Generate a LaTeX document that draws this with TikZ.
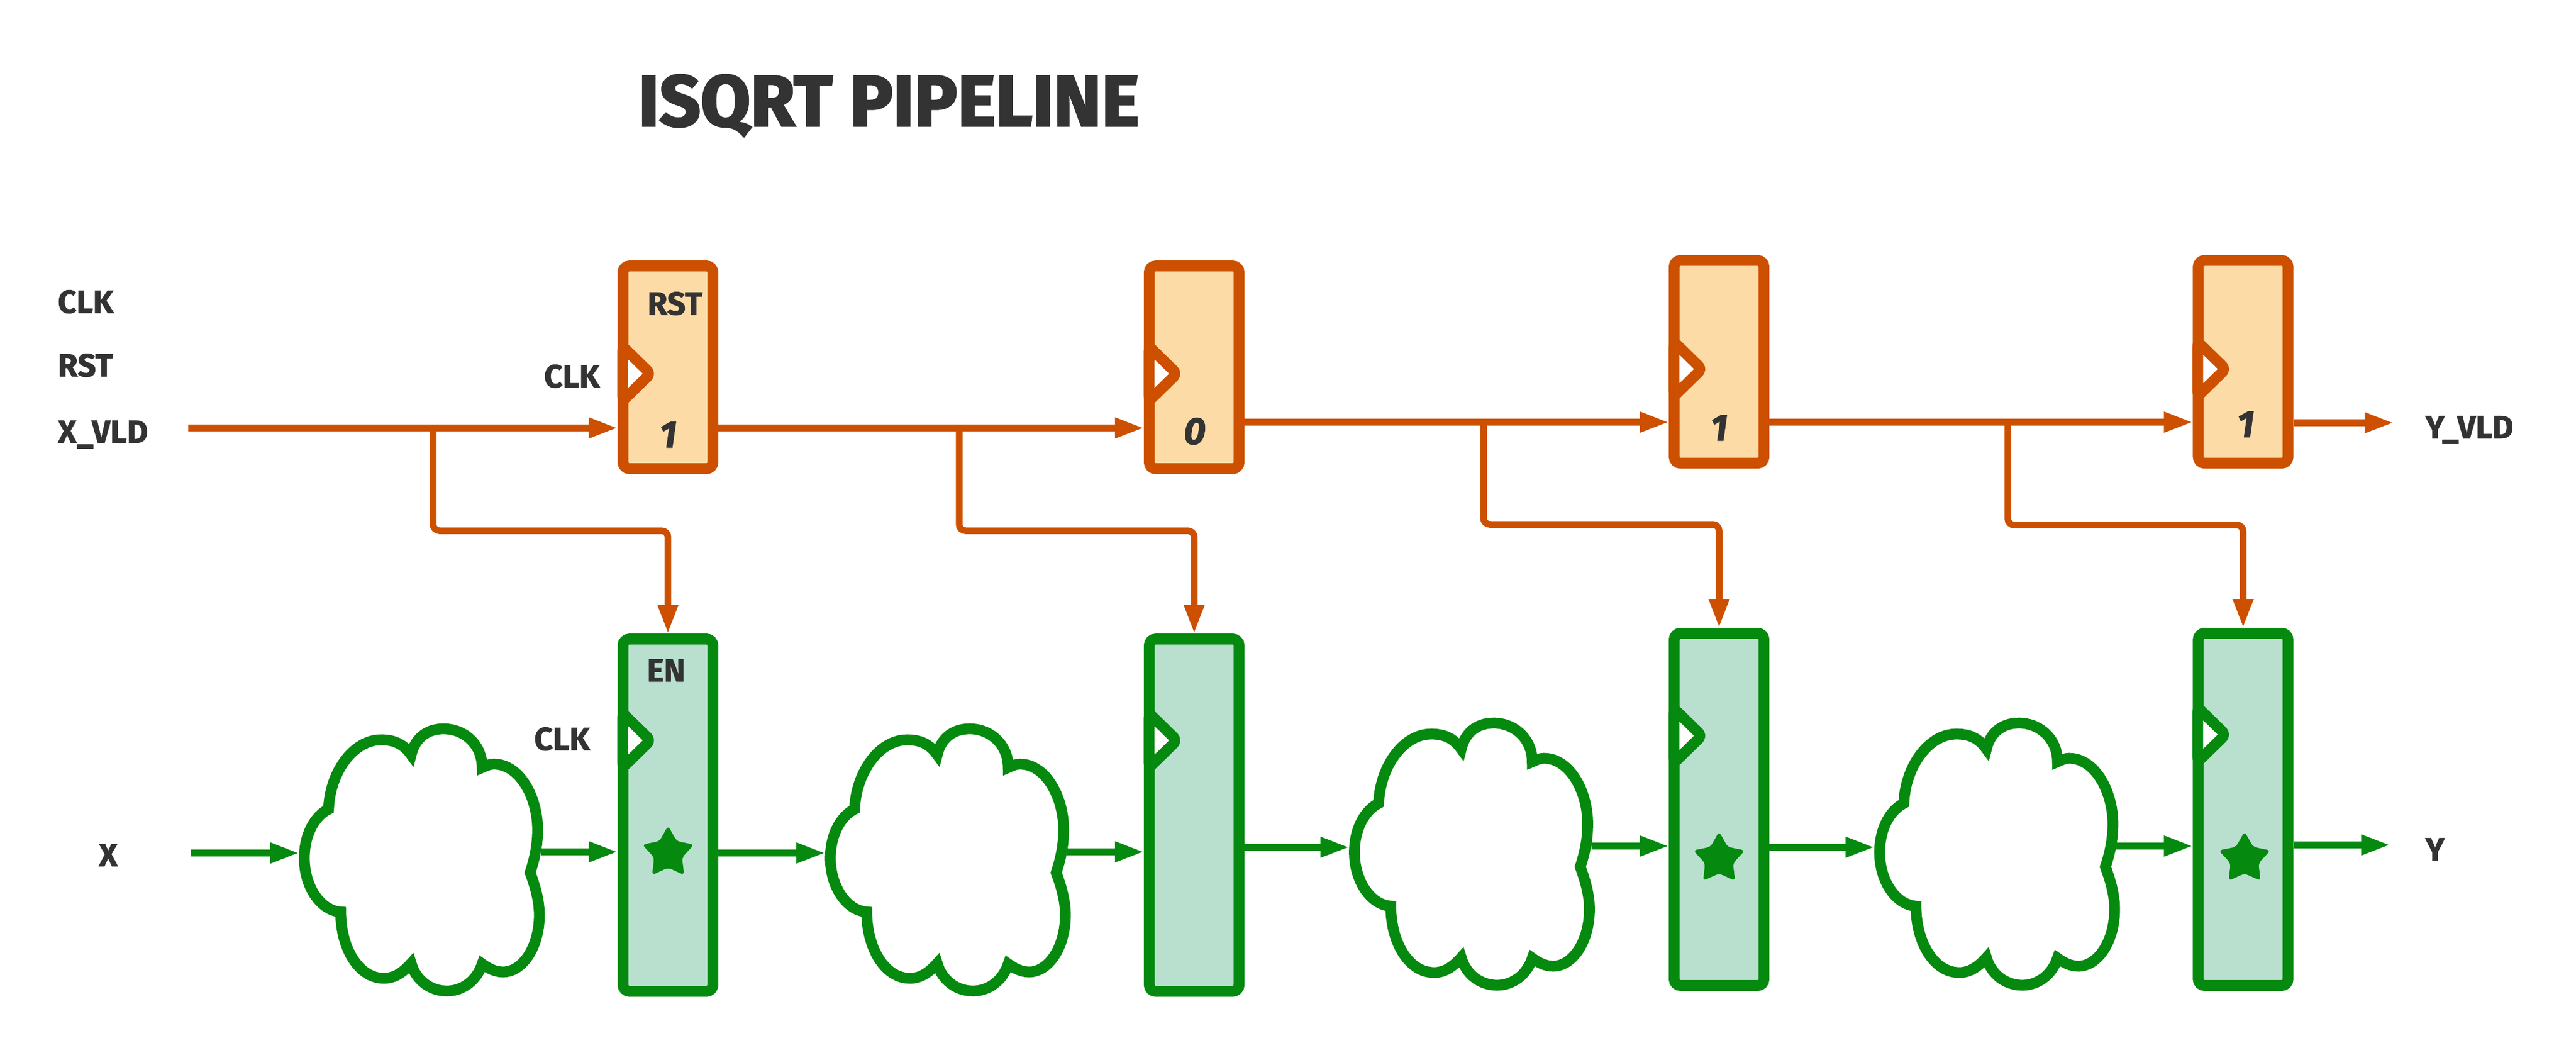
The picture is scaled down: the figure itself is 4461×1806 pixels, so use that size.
\documentclass[tikz,border=0pt]{standalone}
\usepackage{fontspec}
\setmainfont{Fira Sans}
\newfontfamily\heavyfont[FakeBold=2.5]{Fira Sans}
\newfontfamily\labelfont[FakeBold=1.2]{Fira Sans}
\usetikzlibrary{arrows.meta,shapes.geometric}
\definecolor{ink}{HTML}{333333}
\definecolor{ostroke}{HTML}{CC5000}
\definecolor{ofill}{HTML}{FDDBA6}
\definecolor{gstroke}{HTML}{05890E}
\definecolor{gfill}{HTML}{B9E0CF}
\tikzset{
  x=1pt,y=-1pt,
  box/.style={draw,rectangle,rounded corners=11pt,line width=18.7pt,inner sep=0pt,minimum width=155.5pt},
  obox/.style={box,draw=ostroke,fill=ofill,minimum height=351pt},
  gbox/.style={box,draw=gstroke,fill=gfill,minimum height=610pt},
  wire/.style={line width=11.5pt,-{Triangle[length=50pt,width=33pt]}},
  owire/.style={wire,draw=ostroke},
  gwire/.style={wire,draw=gstroke},
  branch/.style={owire,line width=11.5pt,rounded corners=11pt},
  lbl/.style={anchor=base west,inner sep=0pt,text=ink,font=\fontsize{56}{60}\labelfont\bfseries},
  digit/.style={anchor=base,inner sep=0pt,text=ink,font=\fontsize{66}{68}\labelfont\bfseries\itshape},
  starmark/.style={star,star points=5,star point ratio=1.85,fill=gstroke,draw=none,rounded corners=6pt,inner sep=0pt,minimum size=94pt},
  clkmark/.style={line width=18.7pt,fill=white,rounded corners=8pt,line join=round},
  cloudshape/.style={draw=gstroke,fill=white,line width=18.7pt,line join=miter}
}
\newcommand{\clkat}[3]{%
  \draw[clkmark,draw=#3] (#1+9,#2-47) -- (#1+57,#2) -- (#1+9,#2+47) -- cycle;}
\newcommand{\cloudat}[3]{%
  \begin{scope}[shift={(#2,#3)}]
  \draw[cloudshape] (569,1401)
    .. controls (571,1340) and (610,1281) .. (660,1281)
    .. controls (685,1281) and (700,1290) .. (712,1307)
    .. controls (718,1280) and (738,1262) .. (768,1262)
    .. controls (805,1262) and (835,1290) .. (835,1329)
    .. controls (842,1326) and (848,1323) .. (855,1323)
    .. controls (900,1323) and (931,1380) .. (931,1437)
    .. controls (931,1465) and (925,1490) .. (918,1511)
    .. controls (927,1535) and (934,1560) .. (934,1584)
    .. controls (934,1640) and (905,1683) .. (871,1683)
    .. controls (858,1683) and (846,1677) .. (835,1669)
    .. controls (826,1697) and (802,1716) .. (774,1716)
    .. controls (745,1716) and (720,1697) .. (712,1668)
    .. controls (697,1685) and (682,1694) .. (665,1694)
    .. controls (620,1694) and (590,1640) .. (590,1579)
    .. controls (555,1577) and (527,1535) .. (527,1486)
    .. controls (527,1445) and (545,1413) .. (569,1401) -- cycle;
  \coordinate (#1w) at (518,1477);
  \coordinate (#1e) at (937,1475);
  \end{scope}}
\begin{document}
\begin{tikzpicture}
\path[use as bounding box] (0,0) rectangle (4461,1806);

% title and side labels
\node[lbl,font=\fontsize{125}{130}\heavyfont\bfseries] (title) at (1105,218) {ISQRT PIPELINE};
\node[lbl] (lclk) at (100,542) {CLK};
\node[lbl] (lrst) at (100,652) {RST};
\node[lbl] (lvld) at (100,767) {X\_VLD};
\node[lbl] (lx) at (171,1500) {X};
\node[lbl] (lyv) at (4200,759) {Y\_VLD};
\node[lbl] (ly) at (4200,1490) {Y};

% registers
\node[obox] (r1) at (1156.7,636) {};
\node[obox] (r2) at (2068,636) {};
\node[obox] (r3) at (2977,626.5) {};
\node[obox] (r4) at (3884.5,626.5) {};
\node[gbox] (g1) at (1156.7,1411.5) {};
\node[gbox] (g2) at (2068,1411.5) {};
\node[gbox] (g3) at (2977,1401.5) {};
\node[gbox] (g4) at (3884.5,1401.5) {};
\clkat{1069.5}{647}{ostroke}
\clkat{1981}{647}{ostroke}
\clkat{2890}{639}{ostroke}
\clkat{3797}{639}{ostroke}
\clkat{1069.5}{1282}{gstroke}
\clkat{1981}{1282}{gstroke}
\clkat{2890}{1274}{gstroke}
\clkat{3797}{1272}{gstroke}

\node[lbl] (rstl) at (1121,545) {RST};
\node[lbl] (enl) at (1120,1180) {EN};
\node[lbl] (clkr) at (942,671) {CLK};
\node[lbl] (clkg) at (925,1299) {CLK};
\node[digit] (d1) at (1157,775) {1};
\node[digit] (d2) at (2069,769) {0};
\node[digit] (d3) at (2977,763) {1};
\node[digit] (d4) at (3889,757) {1};

\node[starmark] (s1) at (1157,1477) {};
\node[starmark] (s3) at (2977,1487) {};
\node[starmark] (s4) at (3887,1487) {};

% clouds
\cloudat{c1}{0}{0}
\cloudat{c2}{911}{0}
\cloudat{c3}{1818.5}{-10}
\cloudat{c4}{2728}{-10}

% orange valid chain
\coordinate (vin) at (326,741);
\coordinate (b1) at (750,741);
\coordinate (b2) at (1661,741);
\coordinate (b3) at (2569,731);
\coordinate (b4) at (3477,731);
\coordinate (rout) at (4145,732);
\coordinate (h1) at (1000,919);
\coordinate (h2) at (1900,919);
\coordinate (h3) at (2800,908);
\coordinate (h4) at (3700,909);
\draw[owire] (vin) -- (vin -| r1.west);
\draw[owire] (r1.east |- b2) -- (b2 -| r2.west);
\draw[owire] (r2.east |- b3) -- (b3 -| r3.west);
\draw[owire] (r3.east |- b4) -- (b4 -| r4.west);
\draw[owire] (r4.east |- rout) -- (rout);
\draw[branch] (b1) -- (b1 |- h1) -- (g1.north |- h1) -- (g1.north);
\draw[branch] (b2) -- (b2 |- h2) -- (g2.north |- h2) -- (g2.north);
\draw[branch] (b3) -- (b3 |- h3) -- (g3.north |- h3) -- (g3.north);
\draw[branch] (b4) -- (b4 |- h4) -- (g4.north |- h4) -- (g4.north);

% green data chain
\coordinate (xin) at (330,1477);
\coordinate (yout) at (4139,1463);
\draw[gwire] (xin) -- (c1w);
\draw[gwire] (c1e) -- (c1e -| g1.west);
\draw[gwire] (g1.east |- c2w) -- (c2w);
\draw[gwire] (c2e) -- (c2e -| g2.west);
\draw[gwire] (g2.east |- c3w) -- (c3w);
\draw[gwire] (c3e) -- (c3e -| g3.west);
\draw[gwire] (g3.east |- c4w) -- (c4w);
\draw[gwire] (c4e) -- (c4e -| g4.west);
\draw[gwire] (g4.east |- yout) -- (yout);
\end{tikzpicture}
\end{document}
